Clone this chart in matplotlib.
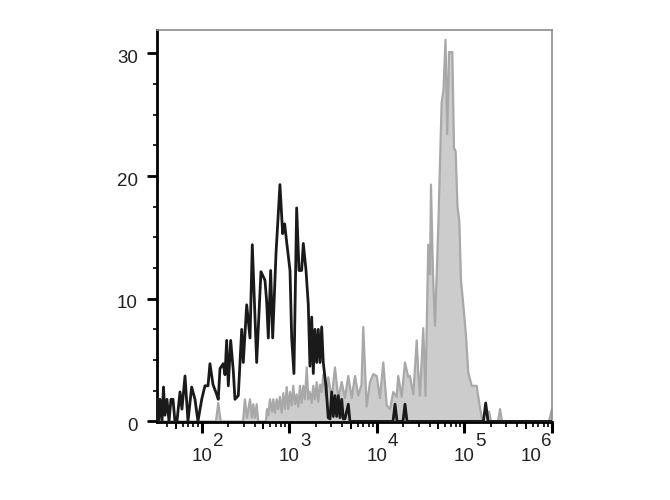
import numpy as np
import matplotlib
matplotlib.use("Agg")
import matplotlib.pyplot as plt
import matplotlib.transforms as mtransforms
from matplotlib.ticker import FixedLocator, LogLocator, MultipleLocator, NullFormatter, NullLocator

plt.rcParams["font.family"] = ["Liberation Sans", "DejaVu Sans"]

# unstained control (black open histogram): log10 intensity, count
ctrl_log10 = [1.486, 1.503, 1.520, 1.543, 1.560, 1.577, 1.600, 1.623, 1.646, 1.669,
              1.691, 1.714, 1.749, 1.771, 1.806, 1.840, 1.882, 1.920, 1.954, 1.997,
              2.034, 2.069, 2.091, 2.126, 2.168, 2.186, 2.206, 2.243, 2.263, 2.282,
              2.301, 2.328, 2.358, 2.377, 2.415, 2.454, 2.472, 2.511, 2.549, 2.575,
              2.625, 2.674, 2.720, 2.739, 2.758, 2.785, 2.808, 2.846, 2.891, 2.922,
              2.945, 2.968, 3.006, 3.025, 3.051, 3.082, 3.109, 3.139, 3.158, 3.189,
              3.215, 3.234, 3.254, 3.272, 3.291, 3.311, 3.329, 3.349, 3.368, 3.386,
              3.417, 3.443, 3.463, 3.482, 3.501, 3.520, 3.539, 3.558, 3.577, 3.597,
              3.615, 3.634, 3.672, 3.691, 4.183, 4.206, 4.229, 4.297, 4.320, 4.343,
              5.217, 5.242, 5.269, 6.000]
ctrl_count = [1.8, 0, 1.8, 0, 2.8, 0.5, 1.8, 0, 1.8, 1.8,
              0, 0, 2.4, 1.0, 3.7, 0, 2.8, 1.8, 0, 1.8,
              2.9, 2.9, 4.7, 3.0, 2.2, 1.8, 4.3, 4.7, 3.8, 6.6,
              2.9, 6.6, 4.1, 1.8, 2.1, 7.5, 4.8, 9.5, 6.8, 14.4,
              4.8, 12.2, 11.5, 9.8, 6.8, 12.3, 6.8, 13.7, 19.3, 15.3,
              16.1, 14.6, 12.3, 6.8, 3.9, 17.4, 12.3, 12.3, 14.5, 12.3,
              9.5, 4.5, 8.5, 3.9, 7.5, 4.8, 7.5, 4.8, 7.7, 4.8,
              2.9, 0.3, 0.2, 2.4, 0.4, 2.1, 0.4, 2.1, 0.3, 1.8,
              0.2, 0.2, 1.4, 0, 0, 1.4, 0, 0, 1.4, 0,
              0, 1.5, 0, 0]

# stained sample (grey filled histogram)
stain_log10 = [1.486, 2.160, 2.186, 2.214, 2.469, 2.491, 2.514, 2.549, 2.571, 2.586,
               2.606, 2.625, 2.643, 2.731, 2.743, 2.758, 2.777, 2.800, 2.815, 2.834,
               2.854, 2.872, 2.891, 2.911, 2.929, 2.949, 2.968, 2.986, 3.006, 3.025,
               3.043, 3.063, 3.082, 3.101, 3.120, 3.139, 3.158, 3.177, 3.197, 3.215,
               3.234, 3.254, 3.272, 3.291, 3.311, 3.329, 3.349, 3.368, 3.386, 3.417,
               3.443, 3.482, 3.520, 3.558, 3.597, 3.634, 3.672, 3.711, 3.749, 3.786,
               3.823, 3.843, 3.882, 3.920, 3.958, 3.997, 4.034, 4.072, 4.111, 4.149,
               4.186, 4.225, 4.243, 4.282, 4.320, 4.358, 4.377, 4.415, 4.454, 4.472,
               4.491, 4.529, 4.554, 4.586, 4.606, 4.617, 4.640, 4.663, 4.701, 4.739,
               4.760, 4.783, 4.803, 4.823, 4.861, 4.880, 4.899, 4.920, 4.941, 4.960,
               4.998, 5.017, 5.043, 5.082, 5.139, 5.177, 5.208, 5.257, 5.280, 5.303,
               5.383, 5.406, 5.429, 5.966, 6.000]
stain_count = [0, 0, 1.5, 0, 0, 1.8, 0.3, 1.8, 0.3, 1.4,
               0.3, 1.4, 0, 0, 1.0, 0.5, 1.8, 0.8, 1.8, 0.7,
               1.8, 1.0, 2.0, 0.7, 2.3, 1.0, 2.8, 1.0, 2.4, 1.3,
               2.9, 1.4, 2.2, 1.2, 2.9, 1.5, 2.9, 1.8, 4.4, 1.8,
               2.4, 1.5, 2.9, 1.8, 3.2, 1.6, 3.0, 2.4, 3.8, 2.0,
               3.6, 1.9, 4.4, 1.9, 3.2, 1.9, 3.7, 1.9, 3.7, 2.1,
               3.0, 7.7, 1.2, 3.2, 3.85, 3.7, 1.9, 4.8, 1.3, 1.0,
               2.4, 2.0, 3.7, 2.0, 4.8, 3.6, 3.7, 2.2, 6.6, 4.0,
               2.1, 7.6, 2.1, 14.4, 12.0, 19.3, 12.0, 7.8, 16.0, 26.0,
               27.0, 31.1, 23.4, 30.1, 30.1, 22.3, 22.0, 17.5, 16.3, 11.5,
               8.6, 7.0, 4.0, 2.9, 2.9, 1.1, 0, 0, 0.8, 0,
               0, 1.0, 0, 0, 1.0]

decades = [2, 3, 4, 5, 6]
y_major = [0, 10, 20, 30]
mid_ticks = [50, 500, 5000, 50000, 500000]

fig = plt.figure(figsize=(6.7, 5), dpi=100)
ax = fig.add_axes([157 / 670, 1 - 422 / 500, 395 / 670, 392 / 500])

stain_x = np.power(10.0, stain_log10)
ctrl_x = np.power(10.0, ctrl_log10)
ax.fill_between(stain_x, stain_count, 0, color="#cccccc", lw=0, zorder=1)
ax.plot(stain_x, stain_count, color="#a8a8a8", lw=1.6, zorder=2)
ax.plot(ctrl_x, ctrl_count, color="#1a1a1a", lw=2.0, zorder=3)

ax.set_xscale("log")
ax.set_xlim(10 ** 1.486, 1e6)
ax.set_ylim(-0.05, 31.9)

# frame: heavy black left/bottom, light grey top/right
for s in ("left", "bottom"):
    ax.spines[s].set_color("black")
    ax.spines[s].set_linewidth(2.0)
for s in ("top", "right"):
    ax.spines[s].set_color("#8c8c8c")
    ax.spines[s].set_linewidth(1.2)

ax.yaxis.set_major_locator(FixedLocator(y_major))
ax.yaxis.set_minor_locator(MultipleLocator(2.5))
ax.tick_params(axis="y", which="major", length=7.2, width=2.0, pad=6.5,
               labelsize=13.5, labelcolor="#222222")
ax.tick_params(axis="y", which="minor", length=2.9, width=1.2)
for lab in ax.get_yticklabels():
    lab.set_transform(lab.get_transform()
                      + mtransforms.ScaledTranslation(0, -3 / 100, fig.dpi_scale_trans))

ax.xaxis.set_major_locator(FixedLocator([10.0 ** d for d in decades]))
ax.xaxis.set_minor_locator(LogLocator(base=10, subs=(2, 3, 4, 6, 7, 8, 9), numticks=20))
ax.xaxis.set_major_formatter(NullFormatter())
ax.xaxis.set_minor_formatter(NullFormatter())
ax.tick_params(axis="x", which="major", length=7.9, width=2.2)
ax.tick_params(axis="x", which="minor", length=3.6, width=1.2)

# medium ticks at 5 x 10^n
sec = ax.secondary_xaxis("bottom")
sec.spines["bottom"].set_visible(False)
sec.xaxis.set_major_locator(FixedLocator(mid_ticks))
sec.xaxis.set_minor_locator(NullLocator())
sec.xaxis.set_major_formatter(NullFormatter())
sec.tick_params(axis="x", length=5.0, width=1.4)

# decade labels, written as "10" plus a raised exponent
trans = mtransforms.blended_transform_factory(ax.transData, ax.transAxes)
base_y = -0.1
sup_y = -0.061
for d in decades:
    if d == decades[-1]:
        base_tr = mtransforms.offset_copy(trans, fig, x=-10, y=0, units="dots")
        ax.text(10.0 ** d, base_y, "10", transform=base_tr, ha="right", va="baseline",
                fontsize=13.5, color="#222222")
        ax.text(10.0 ** d, sup_y, str(d), transform=trans, ha="right", va="baseline",
                fontsize=13.5, color="#222222")
    else:
        sup_tr = mtransforms.offset_copy(trans, fig, x=11, y=0, units="dots")
        ax.text(10.0 ** d, base_y, "10", transform=trans, ha="center", va="baseline",
                fontsize=13.5, color="#222222")
        ax.text(10.0 ** d, sup_y, str(d), transform=sup_tr, ha="left", va="baseline",
                fontsize=13.5, color="#222222")

fig.savefig("out.png", dpi=100)
